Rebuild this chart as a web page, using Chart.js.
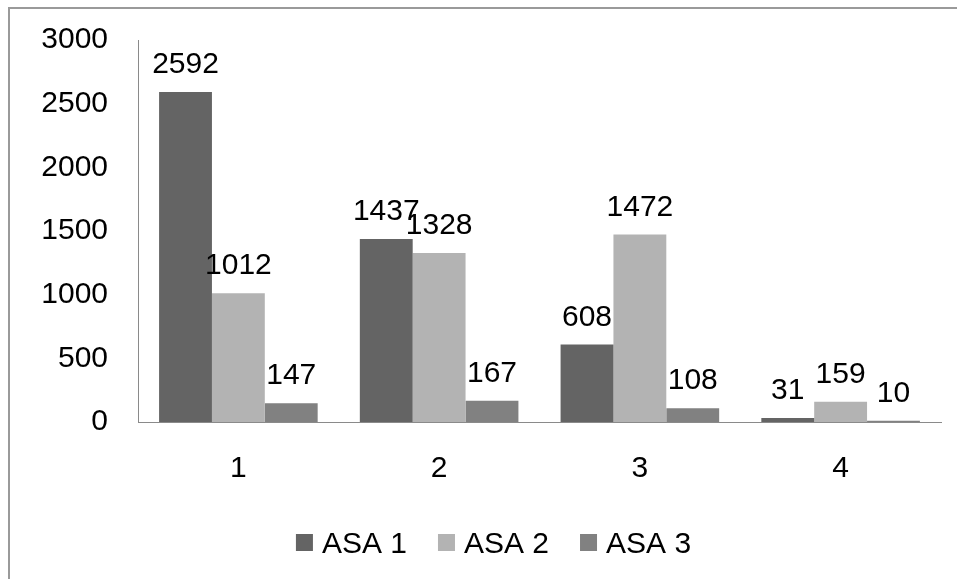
<!DOCTYPE html>
<html>
<head>
<meta charset="utf-8">
<script src="https://cdn.jsdelivr.net/npm/chart.js@4.4.1/dist/chart.umd.min.js"></script>
<style>
  html, body { margin: 0; padding: 0; background: #ffffff; }
  #wrap { width: 957px; height: 579px; position: relative; }
</style>
</head>
<body>
<div id="wrap"><canvas id="c" width="957" height="579"></canvas></div>
<script>
// Categories and series values
const categories = ['1', '2', '3', '4'];
const seriesNames = ['ASA 1', 'ASA 2', 'ASA 3'];
const asa1 = [2592, 1437, 608, 31];
const asa2 = [1012, 1328, 1472, 159];
const asa3 = [147, 167, 108, 10];
const yTicks = [0, 500, 1000, 1500, 2000, 2500, 3000];

const colors = ['#646464', '#b3b3b3', '#818181'];
const FONT = '"Liberation Sans", Arial, sans-serif';
const FONT_SIZE = 30;

// Frame lines along the top and left edges
const framePlugin = {
  id: 'frame',
  beforeDraw(chart) {
    const ctx = chart.ctx;
    ctx.save();
    ctx.fillStyle = '#ffffff';
    ctx.fillRect(0, 0, chart.width, chart.height);
    ctx.fillStyle = '#9a9a9a';
    ctx.fillRect(8, 7, chart.width - 8, 2);
    ctx.fillRect(8, 7, 2, chart.height - 7);
    ctx.restore();
  }
};

// Value labels above each bar
const valueLabels = {
  id: 'valueLabels',
  afterDatasetsDraw(chart) {
    const ctx = chart.ctx;
    ctx.save();
    ctx.font = FONT_SIZE + 'px ' + FONT;
    ctx.fillStyle = '#000000';
    ctx.textAlign = 'center';
    ctx.textBaseline = 'alphabetic';
    chart.data.datasets.forEach((ds, i) => {
      chart.getDatasetMeta(i).data.forEach((bar, j) => {
        ctx.fillText(String(ds.data[j]), bar.x, bar.y - 19);
      });
    });
    ctx.restore();
  }
};

// Legend row under the category labels
const bottomLegend = {
  id: 'bottomLegend',
  afterDraw(chart) {
    const ctx = chart.ctx;
    const box = 17, gapText = 9, gapItem = 31;
    ctx.save();
    ctx.font = FONT_SIZE + 'px ' + FONT;
    const items = chart.data.datasets.map(ds => ({
      label: ds.label, color: ds.backgroundColor, w: ctx.measureText(ds.label).width
    }));
    let total = items.reduce((s, it) => s + box + gapText + it.w, 0) + gapItem * (items.length - 1);
    let x = 493.5 - total / 2;
    const baseline = 553;
    items.forEach(it => {
      ctx.fillStyle = it.color;
      ctx.fillRect(x, 534, box, box);
      ctx.fillStyle = '#000000';
      ctx.textAlign = 'left';
      ctx.textBaseline = 'alphabetic';
      ctx.fillText(it.label, x + box + gapText, baseline);
      x += box + gapText + it.w + gapItem;
    });
    ctx.restore();
  }
};

new Chart(document.getElementById('c'), {
  type: 'bar',
  data: {
    labels: categories,
    datasets: [
      { label: seriesNames[0], data: asa1, backgroundColor: colors[0] },
      { label: seriesNames[1], data: asa2, backgroundColor: colors[1] },
      { label: seriesNames[2], data: asa3, backgroundColor: colors[2] }
    ]
  },
  options: {
    responsive: false,
    animation: false,
    devicePixelRatio: 1,
    layout: { padding: { left: 0, right: 16, top: 40, bottom: 0 } },
    datasets: { bar: { barPercentage: 1.0, categoryPercentage: 0.79 } },
    plugins: {
      legend: { display: false },
      tooltip: { enabled: false }
    },
    scales: {
      x: {
        grid: { display: false, drawTicks: false },
        border: { display: true, color: '#8a8a8a', width: 1 },
        ticks: { color: '#000000', font: { family: FONT, size: FONT_SIZE }, padding: 29 },
        afterFit(scale) {
          scale.height = 157;
          scale.paddingLeft = 0;
          scale.paddingRight = 0;
        }
      },
      y: {
        min: 0,
        max: 3000,
        afterBuildTicks(scale) { scale.ticks = yTicks.map(v => ({ value: v })); },
        grid: { display: false, drawTicks: false },
        border: { display: true, color: '#8a8a8a', width: 1 },
        ticks: {
          color: '#000000',
          font: { family: FONT, size: FONT_SIZE },
          padding: 30,
          callback: v => String(v)
        },
        afterFit(scale) {
          scale.width = 138;
          scale.paddingTop = 0;
          scale.paddingBottom = 0;
        }
      }
    }
  },
  plugins: [framePlugin, valueLabels, bottomLegend]
});
</script>
</body>
</html>
